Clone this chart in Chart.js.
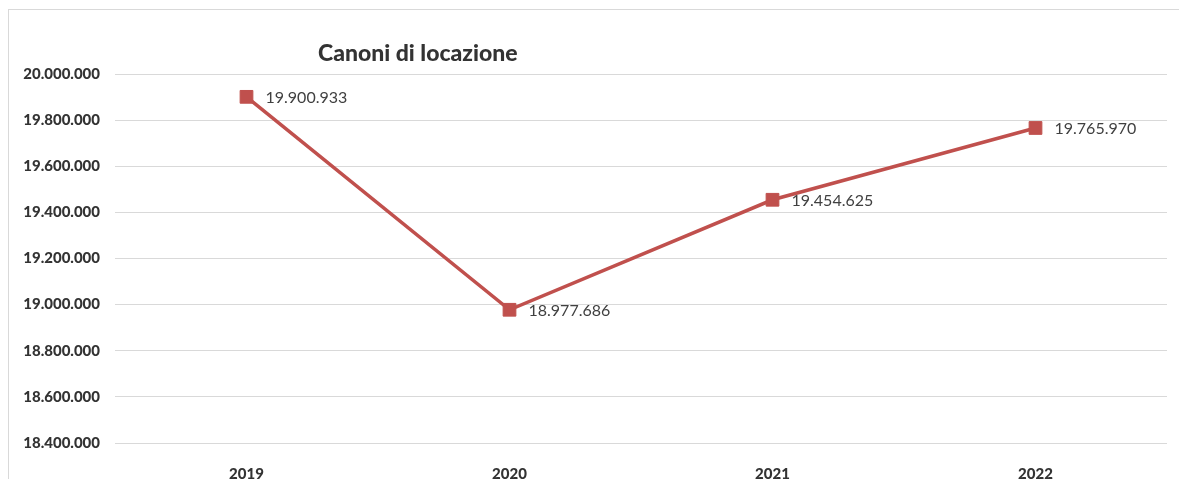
<!DOCTYPE html>
<html lang="it">
  <head>
    <meta charset="UTF-8" />
    <title>Canoni di locazione</title>
    <script src="https://cdn.jsdelivr.net/npm/chart.js"></script>
    <style>
      html, body { margin: 0; padding: 0; background: #fff; overflow: hidden; }
      #cornice {
        position: absolute; left: 8px; top: 9px; width: 1300px; height: 600px;
        border-left: 1px solid #d9d9d9; border-top: 1px solid #d9d9d9;
      }
      #grafico { position: absolute; left: 0; top: 0; }
    </style>
  </head>
  <body>
    <div id="cornice"></div>
    <canvas id="grafico" width="1179" height="479"></canvas>

    <script>
      // Dati
      const anni = ["2019", "2020", "2021", "2022"];
      const canoni = [19900933, 18977686, 19454625, 19765970];
      const asseMin = 18400000;
      const asseMax = 20000000;
      const passo = 200000;

      const rosso = "#c0504d";
      const testo = "#404040";
      const font = "Lato, 'Open Sans', sans-serif";

      // formato italiano con i punti delle migliaia
      function formatta(v) {
        return String(Math.round(v)).replace(/\B(?=(\d{3})+(?!\d))/g, ".");
      }

      // titolo e etichette dei valori
      const etichette = {
        id: "etichette",
        afterDatasetsDraw(chart) {
          const ctx = chart.ctx;
          ctx.save();
          ctx.fillStyle = testo;
          ctx.font = "16px " + font;
          ctx.textAlign = "left";
          ctx.textBaseline = "middle";
          chart.getDatasetMeta(0).data.forEach((p, i) => {
            ctx.fillText(formatta(canoni[i]), p.x + 19, p.y + 1);
          });
          ctx.font = "900 23px " + font;
          ctx.fillStyle = "#333333";
          ctx.textBaseline = "alphabetic";
          ctx.fillText("Canoni di locazione", 318, 61);
          ctx.restore();
        },
      };

      new Chart(document.getElementById("grafico"), {
        type: "line",
        data: {
          labels: anni,
          datasets: [
            {
              data: canoni,
              borderColor: rosso,
              borderWidth: 3.5,
              pointStyle: "rect",
              pointRadius: 9,
              pointBackgroundColor: rosso,
              pointBorderColor: rosso,
              pointBorderWidth: 1,
              tension: 0,
            },
          ],
        },
        options: {
          responsive: false,
          animation: false,
          layout: { padding: { left: 0, right: 12, top: 74, bottom: 0 } },
          plugins: { legend: { display: false }, tooltip: { enabled: false } },
          scales: {
            x: {
              offset: true,
              grid: { display: false },
              border: { display: false },
              ticks: {
                color: "#333333",
                padding: 14,
                font: { family: font, size: 15, weight: "900" },
              },
              afterFit(s) { s.height = 36; },
            },
            y: {
              min: asseMin,
              max: asseMax,
              grid: { color: "#d9d9d9", lineWidth: 1, drawTicks: false },
              border: { display: false },
              ticks: {
                stepSize: passo,
                color: "#333333",
                padding: 15,
                font: { family: font, size: 15, weight: "900" },
                callback: (v) => formatta(v),
              },
              afterFit(s) { s.width = 115; },
            },
          },
        },
        plugins: [etichette],
      });
    </script>
  </body>
</html>
